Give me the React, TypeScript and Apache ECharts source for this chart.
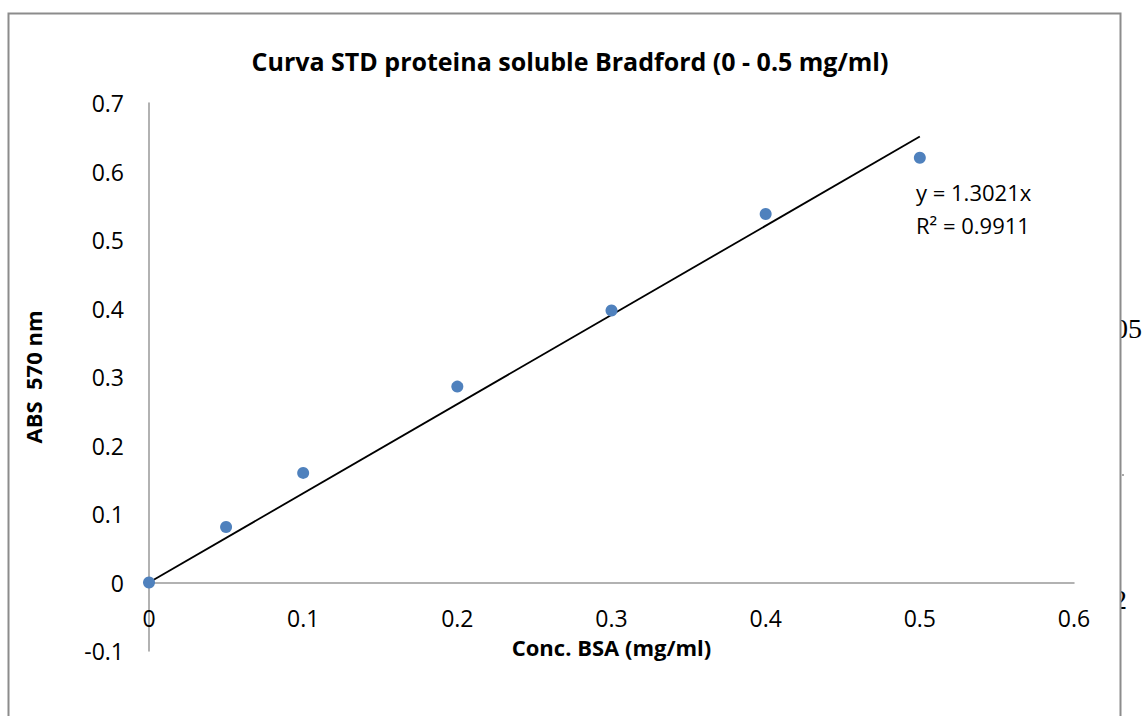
import React, { useEffect, useRef } from "react";
import * as echarts from "echarts";

const concentrations = [0, 0.05, 0.1, 0.2, 0.3, 0.4, 0.5];
const absorbances = [0, 0.081, 0.16, 0.286, 0.397, 0.538, 0.62];
const trendSlope = 1.3021;
const trendRange = [0, 0.5];
const trendLabel = ["y = 1.3021x", "R² = 0.9911"];
const titleText = "Curva STD proteina soluble Bradford (0 - 0.5 mg/ml)";
const xName = "Conc. BSA (mg/ml)";
const yName = "ABS  570 nm";

const FONT = "'Open Sans', 'Noto Sans', sans-serif";

export default function App() {
  const ref = useRef<HTMLDivElement>(null);
  useEffect(() => {
    if (!ref.current) return;
    const chart = echarts.init(ref.current, null, { renderer: "svg" });
    const scatterData = concentrations.map((c, i) => [c, absorbances[i]]);
    const trendData = trendRange.map((x) => [x, x * trendSlope]);
    chart.setOption({
      animation: false,
      backgroundColor: "#ffffff",
      title: {
        text: titleText,
        left: 565,
        top: 43,
        textAlign: "center",
        textStyle: { fontFamily: FONT, fontSize: 25, fontWeight: "bold", color: "#000" },
      },
      grid: { left: 149, right: 68, top: 103, bottom: 65, outerBoundsMode: "none", containLabel: false },
      xAxis: {
        type: "value",
        min: 0,
        max: 0.6,
        interval: 0.1,
        name: xName,
        nameLocation: "middle",
        nameGap: -15,
        nameTextStyle: { fontFamily: FONT, fontSize: 22, fontWeight: "bold", color: "#000" },
        axisLine: { onZero: true, lineStyle: { color: "#999", width: 1.5 } },
        axisTick: { show: false },
        splitLine: { show: false },
        axisLabel: { fontFamily: FONT, fontSize: 23, color: "#000", margin: -45 },
      },
      yAxis: {
        type: "value",
        min: -0.1,
        max: 0.7,
        interval: 0.1,
        name: yName,
        nameLocation: "middle",
        nameGap: 105,
        nameTextStyle: { fontFamily: FONT, fontSize: 22, fontWeight: "bold", color: "#000" },
        axisLine: { show: true, onZero: false, lineStyle: { color: "#999", width: 1.5 } },
        axisTick: { show: false },
        splitLine: { show: false },
        axisLabel: {
          fontFamily: FONT,
          fontSize: 23,
          color: "#000",
          margin: 25,
          formatter: (v: number) => String(Math.round(v * 10) / 10),
        },
      },
      series: [
        {
          type: "line",
          data: trendData,
          symbol: "none",
          lineStyle: { color: "#000", width: 1.8 },
          z: 2,
        },
        {
          type: "scatter",
          data: scatterData,
          symbol: "circle",
          symbolSize: 12,
          itemStyle: { color: "#4F81BD", opacity: 1 },
          z: 3,
        },
      ],
      graphic: [
        {
          type: "text",
          left: 916,
          top: 175,
          style: {
            text: trendLabel.join("\n"),
            fontFamily: FONT,
            fontSize: 22,
            lineHeight: 33,
            fill: "#000",
          },
        },
        {
          type: "text",
          x: 1114,
          y: 314,
          style: { text: "05", fontFamily: "'Liberation Serif', serif", fontSize: 28, fill: "#000" },
          z: 1,
        },
        {
          type: "text",
          x: 1113,
          y: 585,
          style: { text: "2", fontFamily: "'Liberation Serif', serif", fontSize: 28, fill: "#000" },
          z: 1,
        },
        {
          type: "rect",
          shape: { x: 1095, y: 300, width: 26, height: 320 },
          style: { fill: "#fff" },
          z: 2,
        },
        {
          type: "line",
          shape: { x1: 1122, y1: 475, x2: 1124, y2: 475 },
          style: { stroke: "#555", lineWidth: 1 },
          z: 3,
        },
        {
          type: "rect",
          shape: { x: 8.5, y: 13.5, width: 1112, height: 720 },
          style: { fill: "none", stroke: "#8c8c8c", lineWidth: 2 },
          z: 10,
        },
      ],
    });
    return () => chart.dispose();
  }, []);
  return (
    <div
      ref={ref}
      style={{ position: "fixed", left: 0, top: 0, width: 1142, height: 716 }}
    />
  );
}
